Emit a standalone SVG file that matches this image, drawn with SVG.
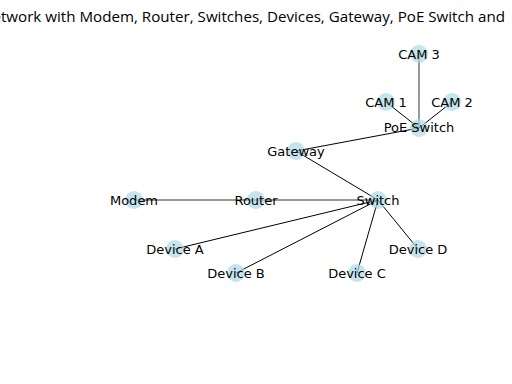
<svg xmlns="http://www.w3.org/2000/svg" width="512" height="384" viewBox="0 0 512 384">
<style>
.n{fill:#add8e6;fill-opacity:0.7}
.l{font-family:"DejaVu Sans",sans-serif;font-size:13px;fill:#000;text-anchor:middle;dominant-baseline:central}
.e{stroke:#000;stroke-width:1;fill:none}
.g{stroke:#999;stroke-width:2;fill:none}
.t{font-family:"Open Sans",sans-serif;font-size:14px;fill:#000}
</style>
<rect width="512" height="384" fill="#fff"/>
<text class="t" x="-19" y="22" textLength="524" lengthAdjust="spacingAndGlyphs">Network with Modem, Router, Switches, Devices, Gateway, PoE Switch and</text>
<g id="connectors">
<line class="g" x1="134" y1="200" x2="256" y2="200"/>
<line class="g" x1="256" y1="200" x2="378" y2="200"/>
<line class="g" x1="419" y1="54" x2="419" y2="128"/>
<line class="e" x1="386" y1="102" x2="419" y2="128"/>
<line class="e" x1="452" y1="102" x2="419" y2="128"/>
<line class="e" x1="419" y1="128" x2="296" y2="151"/>
<line class="e" x1="296" y1="151" x2="378" y2="200"/>
<line class="e" x1="378" y1="200" x2="175" y2="249"/>
<line class="e" x1="378" y1="200" x2="236" y2="273"/>
<line class="e" x1="378" y1="200" x2="357" y2="273"/>
<line class="e" x1="378" y1="200" x2="418" y2="249"/>
</g>
<g id="cam3"><circle class="n" cx="419" cy="54" r="9"/><text class="l" x="419" y="54">CAM 3</text></g>
<g id="cam1"><circle class="n" cx="386" cy="102" r="9"/><text class="l" x="386" y="102">CAM 1</text></g>
<g id="cam2"><circle class="n" cx="452" cy="102" r="9"/><text class="l" x="452" y="102">CAM 2</text></g>
<g id="poe"><circle class="n" cx="419" cy="128" r="9"/><text class="l" x="419" y="127">PoE Switch</text></g>
<g id="gateway"><circle class="n" cx="296" cy="151" r="9"/><text class="l" x="296" y="151">Gateway</text></g>
<g id="modem"><circle class="n" cx="134" cy="200" r="9"/><text class="l" x="134" y="200">Modem</text></g>
<g id="router"><circle class="n" cx="256" cy="200" r="9"/><text class="l" x="256" y="200">Router</text></g>
<g id="switch"><circle class="n" cx="378" cy="200" r="9"/><text class="l" x="378" y="200">Switch</text></g>
<g id="deviceA"><circle class="n" cx="175" cy="249" r="9"/><text class="l" x="175" y="249">Device A</text></g>
<g id="deviceB"><circle class="n" cx="236" cy="273" r="9"/><text class="l" x="236" y="273">Device B</text></g>
<g id="deviceC"><circle class="n" cx="357" cy="273" r="9"/><text class="l" x="357" y="273">Device C</text></g>
<g id="deviceD"><circle class="n" cx="418" cy="249" r="9"/><text class="l" x="418" y="249">Device D</text></g>
</svg>
